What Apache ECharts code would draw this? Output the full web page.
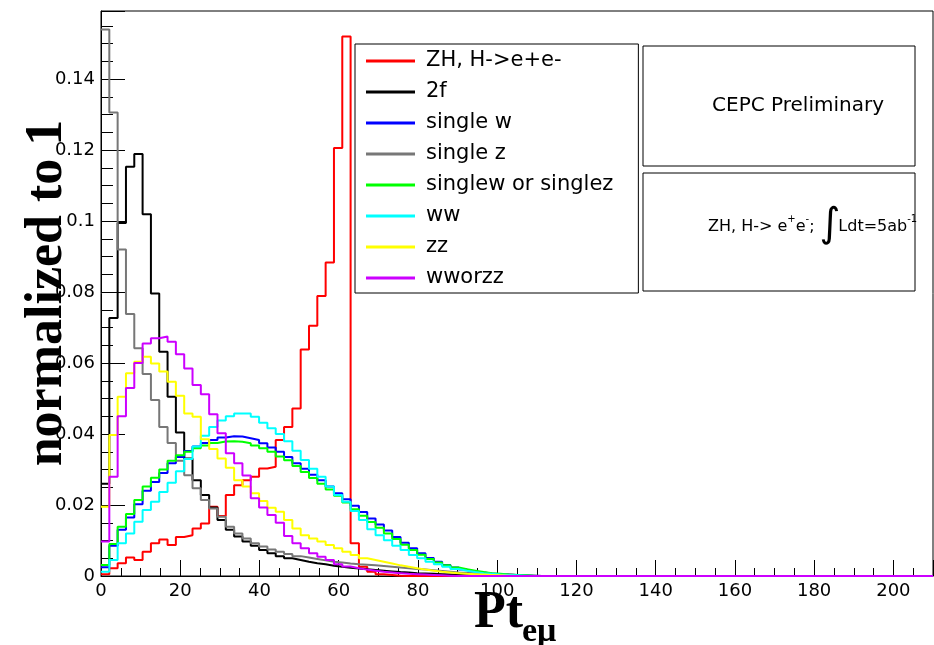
<!DOCTYPE html>
<html>
<head>
<meta charset="utf-8">
<script src="https://cdn.jsdelivr.net/npm/echarts@6/dist/echarts.min.js"></script>
<style>
html,body{margin:0;padding:0;background:#fff;}
#chart{width:934px;height:645px;}
</style>
</head>
<body>
<div id="chart"></div>
<script>
// Histogram binning: 100 bins from 0 to 210
const nBins = 100, xMin = 0, xMax = 210;

const seriesNames = ["ZH, H->e+e-", "2f", "single w", "single z", "singlew or singlez", "ww", "zz", "wworzz"];
const seriesColors = ["#ff0000", "#000000", "#0000ff", "#777777", "#00ff00", "#00ffff", "#ffff00", "#cc00ff"];

const zhEE = [0.0005,0.0022,0.0036,0.0052,0.0045,0.0068,0.0092,0.0103,0.0087,0.011,
  0.0115,0.0134,0.0148,0.0195,0.0169,0.0228,0.0256,0.027,0.028,0.0303,
  0.0308,0.0383,0.042,0.0472,0.0638,0.0705,0.0789,0.0883,0.1206,0.152,
  0.0092,0.0026,0.0012,0.0005,0.0003,0.0001,0,0,0,0,
  0,0,0,0,0,0,0,0,0,0, 0,0,0,0,0,0,0,0,0,0, 0,0,0,0,0,0,0,0,0,0,
  0,0,0,0,0,0,0,0,0,0, 0,0,0,0,0,0,0,0,0,0, 0,0,0,0,0,0,0,0,0,0];
const twoF = [0.026,0.0727,0.0995,0.1153,0.1189,0.1019,0.0796,0.0632,0.0505,0.0404,
  0.0331,0.027,0.0228,0.0193,0.0158,0.013,0.0111,0.0097,0.0085,0.0073,
  0.0064,0.0056,0.005,0.0045,0.004,0.0036,0.0033,0.0029,0.0026,0.0023,
  0.0021,0.0019,0.0017,0.0015,0.0013,0.0011,0.001,0.0008,0.0007,0.0006,
  0.0005,0.0004,0.0003,0.0002,0.0002,0.0001,0,0,0,0,
  0,0,0,0,0,0,0,0,0,0, 0,0,0,0,0,0,0,0,0,0, 0,0,0,0,0,0,0,0,0,0,
  0,0,0,0,0,0,0,0,0,0, 0,0,0,0,0,0,0,0,0,0];
const singleW = [0.0025,0.0085,0.013,0.0165,0.0202,0.024,0.0265,0.029,0.0318,0.0335,
  0.0352,0.0365,0.0375,0.0383,0.039,0.0394,0.0393,0.0388,0.0383,0.0374,
  0.0362,0.035,0.0335,0.0318,0.0302,0.0285,0.027,0.0252,0.0233,0.0216,
  0.0198,0.018,0.0162,0.0145,0.0128,0.011,0.0094,0.0078,0.0064,0.0051,
  0.004,0.0031,0.0024,0.0018,0.0013,0.001,0.0007,0.0005,0.0004,0.0003,
  0.0002,0.0001,0,0,0,0,0,0,0,0, 0,0,0,0,0,0,0,0,0,0, 0,0,0,0,0,0,0,0,0,0,
  0,0,0,0,0,0,0,0,0,0, 0,0,0,0,0,0,0,0,0,0];
const singleZ = [0.154,0.1306,0.092,0.0738,0.0642,0.0569,0.0496,0.042,0.0375,0.0325,
  0.0284,0.0247,0.0214,0.019,0.0167,0.0139,0.012,0.0106,0.0092,0.0083,
  0.0075,0.0068,0.0062,0.0056,0.0052,0.0048,0.0044,0.004,0.0038,0.0035,
  0.0033,0.0032,0.003,0.0028,0.0026,0.0024,0.0022,0.002,0.0018,0.0016,
  0.0014,0.0012,0.001,0.0009,0.0008,0.0007,0.0006,0.0005,0.0004,0.0003,
  0.0002,0.0001,0,0,0,0,0,0,0,0, 0,0,0,0,0,0,0,0,0,0, 0,0,0,0,0,0,0,0,0,0,
  0,0,0,0,0,0,0,0,0,0, 0,0,0,0,0,0,0,0,0,0];
const singleWorZ = [0.0031,0.009,0.0139,0.0175,0.0214,0.0252,0.0277,0.03,0.0325,0.034,
  0.035,0.036,0.0368,0.0375,0.0379,0.038,0.0378,0.0374,0.0368,0.036,
  0.035,0.0337,0.0326,0.031,0.0293,0.0276,0.026,0.0244,0.0226,0.0207,
  0.0188,0.017,0.0152,0.0136,0.012,0.0104,0.0088,0.0073,0.006,0.0048,
  0.0038,0.003,0.0024,0.0019,0.0015,0.0011,0.0008,0.0006,0.0004,0.0003,
  0.0002,0.0001,0,0,0,0,0,0,0,0, 0,0,0,0,0,0,0,0,0,0, 0,0,0,0,0,0,0,0,0,0,
  0,0,0,0,0,0,0,0,0,0, 0,0,0,0,0,0,0,0,0,0];
const ww = [0.0012,0.0045,0.0092,0.012,0.0153,0.0186,0.0209,0.0237,0.0263,0.0295,
  0.033,0.0365,0.0395,0.042,0.0438,0.045,0.0458,0.0458,0.0449,0.0432,
  0.0416,0.04,0.038,0.0353,0.0327,0.0302,0.028,0.0252,0.0228,0.0209,
  0.0183,0.0158,0.0132,0.0115,0.0101,0.0085,0.0073,0.0059,0.005,0.004,
  0.0033,0.0026,0.002,0.0015,0.0011,0.0008,0.0006,0.0004,0.0003,0.0002,
  0.0001,0,0,0,0,0,0,0,0,0, 0,0,0,0,0,0,0,0,0,0, 0,0,0,0,0,0,0,0,0,0,
  0,0,0,0,0,0,0,0,0,0, 0,0,0,0,0,0,0,0,0,0];
const zz = [0.0195,0.0397,0.0505,0.0571,0.0604,0.0618,0.0599,0.0576,0.0547,0.0508,
  0.0458,0.0449,0.0385,0.0358,0.0331,0.0305,0.027,0.0252,0.0233,0.0211,
  0.0192,0.0181,0.0158,0.0134,0.0115,0.0106,0.0097,0.0087,0.0078,0.0068,
  0.0059,0.005,0.0045,0.004,0.0035,0.003,0.0026,0.0022,0.0018,0.0015,
  0.0012,0.001,0.0008,0.0006,0.0005,0.0004,0.0003,0.0002,0.0001,0,
  0,0,0,0,0,0,0,0,0,0, 0,0,0,0,0,0,0,0,0,0, 0,0,0,0,0,0,0,0,0,0,
  0,0,0,0,0,0,0,0,0,0, 0,0,0,0,0,0,0,0,0,0];
const wwOrZZ = [0.0097,0.028,0.045,0.053,0.06,0.0655,0.067,0.0675,0.066,0.0625,
  0.0585,0.0538,0.0512,0.0456,0.0402,0.0346,0.0318,0.0283,0.0219,0.0193,
  0.0172,0.015,0.0113,0.0092,0.0078,0.0064,0.0054,0.0045,0.0033,0.0027,
  0.0022,0.0018,0.0015,0.0012,0.001,0.0008,0.0006,0.0005,0.0004,0.0003,
  0.0002,0.0001,0,0,0,0,0,0,0,0,
  0,0,0,0,0,0,0,0,0,0, 0,0,0,0,0,0,0,0,0,0, 0,0,0,0,0,0,0,0,0,0,
  0,0,0,0,0,0,0,0,0,0, 0,0,0,0,0,0,0,0,0,0];

const allValues = [zhEE, twoF, singleW, singleZ, singleWorZ, ww, zz, wwOrZZ];

const xTickInterval = 20;
const yTickInterval = 0.02;
const yMax = 0.1592;

function histSteps(vals) {
  const w = (xMax - xMin) / nBins;
  const pts = vals.map((v, i) => [xMin + i * w, v]);
  pts.push([xMax, vals[vals.length - 1]]);
  return pts;
}

const sans = "'DejaVu Sans', 'Liberation Sans', Arial, sans-serif";
const serif = "'Liberation Serif', 'DejaVu Serif', 'Times New Roman', serif";

// lay out the luminosity label pieces (text layout only)
const mctx = document.createElement('canvas').getContext('2d');
function textW(t, font) { mctx.font = font; return mctx.measureText(t).width; }
const lumiParts = [
  { t: 'ZH, H-> e', s: 16, dy: 0 },
  { t: '+', s: 10, dy: -8 },
  { t: 'e', s: 16, dy: 0 },
  { t: '-', s: 10, dy: -8 },
  { t: ';', s: 16, dy: 0, gapAfter: 5 },
  { t: '\u222B', s: 40, dy: -1, gapAfter: -2 },
  { t: 'Ldt=5ab', s: 16, dy: 0 },
  { t: '-1', s: 10, dy: -8 }
];
const lumiGraphics = [];
(function () {
  let x = 708;
  const yc = 227;
  lumiParts.forEach(p => {
    const font = p.s + 'px ' + sans;
    lumiGraphics.push({ type: 'text', x: x, y: yc + p.dy,
      style: { text: p.t, font: font, fill: '#000', textAlign: 'left', textVerticalAlign: 'middle' }, z: 11 });
    x += textW(p.t, font) + (p.gapAfter || 0);
  });
})();

const chart = echarts.init(document.getElementById('chart'));

const option = {
  animation: false,
  backgroundColor: '#ffffff',
  grid: { left: 101, right: 1, top: 11, bottom: 69, show: true, borderColor: '#000', borderWidth: 1, backgroundColor: 'transparent' },
  xAxis: {
    type: 'value', min: xMin, max: xMax, interval: xTickInterval,
    axisLine: { lineStyle: { color: '#000', width: 1 } },
    axisTick: { inside: true, length: 16, lineStyle: { color: '#000' } },
    minorTick: { show: true, splitNumber: 4, length: 8, lineStyle: { color: '#000' } },
    splitLine: { show: false },
    axisLabel: { showMaxLabel: false, color: '#000', fontFamily: sans, fontSize: 18, margin: 6 }
  },
  yAxis: {
    type: 'value', min: 0, max: yMax, interval: yTickInterval,
    axisLine: { show: true, lineStyle: { color: '#000', width: 1 } },
    axisTick: { inside: true, length: 24, lineStyle: { color: '#000' } },
    minorTick: { show: true, splitNumber: 4, length: 12, lineStyle: { color: '#000' } },
    splitLine: { show: false },
    axisLabel: { showMaxLabel: false, color: '#000', fontFamily: sans, fontSize: 18, margin: 6,
      formatter: v => String(+v.toFixed(4)) }
  },
  legend: {
    orient: 'vertical', left: 355, top: 44, padding: [6, 25, 4, 11], itemGap: 9,
    itemWidth: 49, itemHeight: 3, icon: 'rect', selectedMode: false,
    backgroundColor: '#fff', borderColor: '#000', borderWidth: 1,
    textStyle: { fontFamily: sans, fontSize: 21, color: '#000', lineHeight: 22, padding: [0, 0, 0, 6] },
    data: seriesNames
  },
  series: allValues.map((vals, k) => ({
    name: seriesNames[k], type: 'line', step: 'end', symbol: 'none', showSymbol: false,
    color: seriesColors[k],
    lineStyle: { color: seriesColors[k], width: 2 },
    data: histSteps(vals), z: 2 + k * 0.01
  })),
  graphic: [
    { type: 'rect', shape: { x: 643, y: 46, width: 272, height: 120 }, style: { fill: '#fff', stroke: '#000', lineWidth: 1 }, z: 10 },
    { type: 'text', x: 798, y: 106, style: { text: 'CEPC Preliminary', font: '20px ' + sans, fill: '#000', textAlign: 'center', textVerticalAlign: 'middle' }, z: 11 },
    { type: 'rect', shape: { x: 643, y: 173, width: 272, height: 118 }, style: { fill: '#fff', stroke: '#000', lineWidth: 1 }, z: 10 },
    ...lumiGraphics,
    { type: 'text', x: 48, y: 293, rotation: Math.PI / 2, style: { text: 'normalized to 1', font: 'bold 52px ' + serif, fill: '#000', textAlign: 'center', textVerticalAlign: 'middle' }, z: 11 },
    { type: 'text', x: 474, y: 640, style: { text: 'Pt', font: 'bold 52px ' + serif, fill: '#000', textAlign: 'left', textVerticalAlign: 'bottom' }, z: 11 },
    { type: 'text', x: 522, y: 649, style: { text: 'e\u03BC', font: 'bold 34px ' + serif, fill: '#000', textAlign: 'left', textVerticalAlign: 'bottom' }, z: 11 }
  ]
};
chart.setOption(option);
</script>
</body>
</html>
